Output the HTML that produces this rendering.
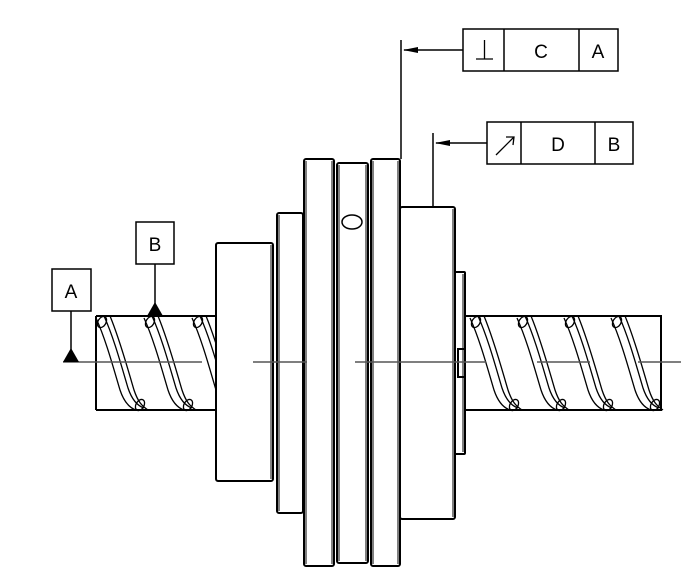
<!DOCTYPE html>
<html><head><meta charset="utf-8"><style>body{margin:0;background:#fff}svg{display:block}</style></head><body>
<svg width="700" height="576" viewBox="0 0 700 576" xmlns="http://www.w3.org/2000/svg" font-family="Liberation Sans, sans-serif">
<defs>
<g id="th" fill="none" stroke="#000" stroke-width="1.3">
<path d="M0,318 C10,340 18,370 24,390 C28,402 34,408 40,410"/>
<path d="M8,316 C18,338 26,368 32,388 C36,400 42,406 48,408"/>
<path d="M14,316 C24,340 32,370 38,390 C42,402 46,406 52,410"/>
<ellipse cx="6" cy="322" rx="4" ry="6" transform="rotate(30 6 322)"/>
<ellipse cx="44" cy="405" rx="4" ry="6" transform="rotate(30 44 405)"/>
</g>
</defs>
<g fill="#fff" stroke="#000" stroke-width="2">
<!-- left screw -->
<path d="M96,316 H215 M96,410 H215 M96,316 V410" fill="none"/>
<!-- right screw -->
<path d="M465,316 H661 V410 H465" fill="none"/>
</g>
<use href="#th" x="96"/><use href="#th" x="144"/><use href="#th" x="192"/>
<use href="#th" x="470"/><use href="#th" x="517"/><use href="#th" x="564"/><use href="#th" x="611"/>
<g fill="#fff" stroke="#000" stroke-width="2">
<rect x="216" y="243" width="57" height="238" rx="2"/>
<rect x="277" y="213" width="26" height="300" rx="2"/>
<rect x="304" y="159" width="30" height="407" rx="2"/>
<rect x="337" y="163" width="31" height="400" rx="2"/>
<rect x="371" y="159" width="29" height="407" rx="2"/>
<rect x="400" y="207" width="55" height="312" rx="2"/>
<rect x="455" y="272" width="10" height="182" rx="1"/>
<rect x="458" y="349" width="7" height="28"/>
</g>
<g stroke="#000" stroke-width="1" fill="none">
<line x1="271" y1="245" x2="271" y2="479"/><line x1="279" y1="215" x2="279" y2="511"/>
<line x1="306" y1="161" x2="306" y2="564"/><line x1="332" y1="161" x2="332" y2="564"/>
<line x1="339" y1="165" x2="339" y2="561"/><line x1="366" y1="165" x2="366" y2="561"/>
<line x1="373" y1="161" x2="373" y2="564"/><line x1="398" y1="161" x2="398" y2="564"/>
<line x1="453" y1="209" x2="453" y2="517"/><line x1="463" y1="274" x2="463" y2="452"/>
</g>
<ellipse cx="352" cy="222" rx="10" ry="7" fill="none" stroke="#000" stroke-width="1.5"/>
<!-- centerlines -->
<g stroke="#555" stroke-width="1.5">
<line x1="63" y1="362" x2="202" y2="362"/><line x1="253" y1="362" x2="307" y2="362"/>
<line x1="355" y1="362" x2="486" y2="362"/><line x1="537" y1="362" x2="590" y2="362"/>
<line x1="638" y1="362" x2="681" y2="362"/>
</g>
<!-- leaders -->
<g stroke="#000" stroke-width="1.5" fill="none">
<line x1="401" y1="40" x2="401" y2="159"/><line x1="404" y1="50" x2="463" y2="50"/>
<line x1="433" y1="133" x2="433" y2="207"/><line x1="436" y1="143" x2="487" y2="143"/>
<line x1="71" y1="311" x2="71" y2="352"/><line x1="155" y1="264" x2="155" y2="305"/>
</g>
<polygon points="403,50 418,47 418,53" fill="#000"/>
<polygon points="435,143 450,140 450,146" fill="#000"/>
<polygon points="63,362 79,362 71,348" fill="#000"/>
<polygon points="147,316 163,316 155,302" fill="#000"/>
<!-- FCFs -->
<g fill="#fff" stroke="#000" stroke-width="1.5">
<rect x="463" y="29" width="155" height="42"/>
<line x1="504" y1="29" x2="504" y2="71"/><line x1="579" y1="29" x2="579" y2="71"/>
<rect x="487" y="122" width="146" height="42"/>
<line x1="521" y1="122" x2="521" y2="164"/><line x1="595" y1="122" x2="595" y2="164"/>
<rect x="52" y="269" width="39" height="42"/>
<rect x="136" y="222" width="38" height="42"/>
</g>
<g stroke="#000" stroke-width="1.3" fill="none">
<line x1="476" y1="59" x2="493" y2="59"/><line x1="484.5" y1="40" x2="484.5" y2="59"/>
<line x1="496" y1="155" x2="514" y2="137"/><polyline points="506,137 514,137 513,145"/>
</g>
<g font-size="19" text-anchor="middle" fill="#000">
<text x="541" y="58">C</text><text x="598" y="58">A</text>
<text x="558" y="151">D</text><text x="614" y="151">B</text>
<text x="71" y="298">A</text><text x="155" y="251">B</text>
</g>
</svg>
</body></html>
